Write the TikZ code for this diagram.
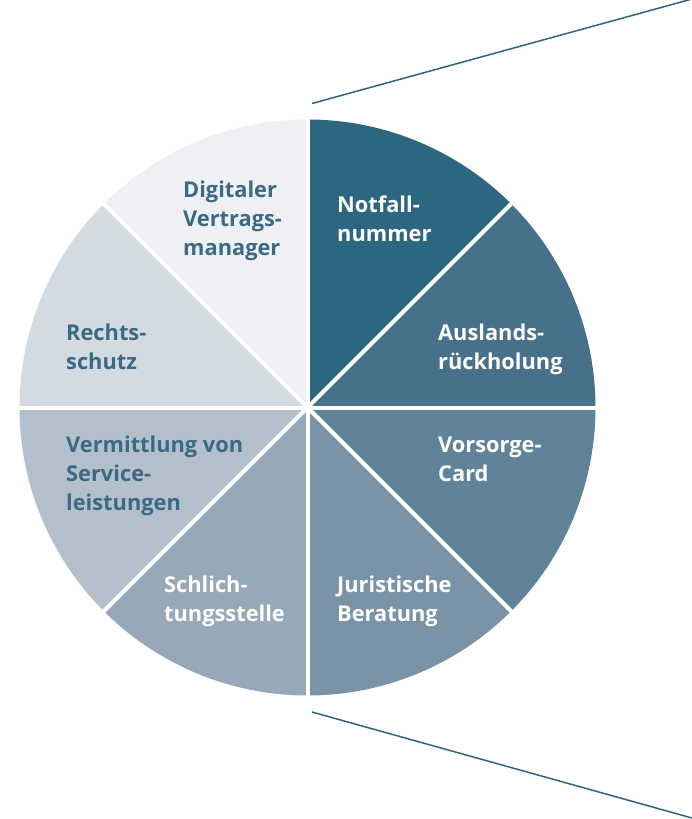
\documentclass[tikz,border=0pt]{standalone}
\usepackage{fontspec}
\setmainfont{Open Sans}
\definecolor{cA}{HTML}{2D6680}
\definecolor{cB}{HTML}{47718A}
\definecolor{cC}{HTML}{618399}
\definecolor{cD}{HTML}{7B93A7}
\definecolor{cE}{HTML}{97A8B9}
\definecolor{cF}{HTML}{B4BFCC}
\definecolor{cG}{HTML}{D4DAE2}
\definecolor{cH}{HTML}{EEF0F4}
\definecolor{txtdark}{HTML}{3B6A84}
\definecolor{linecol}{HTML}{2D6680}
\tikzset{
  lbl/.style={anchor=base west, inner sep=0pt, align=left,
    font=\fontsize{21.8}{29}\selectfont\bfseries},
  lbllight/.style={lbl, text=white},
  lbldark/.style={lbl, text=txtdark},
  gap/.style={draw=white, line width=4pt},
  zoomline/.style={draw=linecol, line width=1.5pt}
}
\begin{document}
\begin{tikzpicture}[x=1pt,y=-1pt]
\useasboundingbox (0,0) rectangle (692,819);
\fill[white] (0,0) rectangle (692,819);
\coordinate (c) at (307.5,407.5);
\def\R{288}
\fill[cA] (c) -- ++(-90:\R) arc[start angle=-90, end angle=-45, radius=\R] -- cycle;
\fill[cB] (c) -- ++(-45:\R) arc[start angle=-45, end angle=0, radius=\R] -- cycle;
\fill[cC] (c) -- ++(0:\R) arc[start angle=0, end angle=45, radius=\R] -- cycle;
\fill[cD] (c) -- ++(45:\R) arc[start angle=45, end angle=90, radius=\R] -- cycle;
\fill[cE] (c) -- ++(90:\R) arc[start angle=90, end angle=135, radius=\R] -- cycle;
\fill[cF] (c) -- ++(135:\R) arc[start angle=135, end angle=180, radius=\R] -- cycle;
\fill[cG] (c) -- ++(180:\R) arc[start angle=180, end angle=225, radius=\R] -- cycle;
\fill[cH] (c) -- ++(225:\R) arc[start angle=225, end angle=270, radius=\R] -- cycle;
\foreach \a in {0,45,...,315} {
  \draw[gap] (c) -- ++(\a:\R+2);
}
\coordinate (zt1) at (312,103.5);
\coordinate (zt2) at (692,-1);
\coordinate (zb1) at (312,712);
\coordinate (zb2) at (692,818);
\draw[zoomline] (zt1) -- (zt2);
\draw[zoomline] (zb1) -- (zb2);
% labels (anchor = baseline of last line)
\node[lbldark] (dig) at (183,255) {Digitaler\\Vertrags-\\manager};
\node[lbllight] (not) at (337,241) {Notfall-\\nummer};
\node[lbldark] (rec) at (66,369) {Rechts-\\schutz};
\node[lbllight] (aus) at (438,369) {Auslands-\\rückholung};
\node[lbldark] (ver) at (66,510) {Vermittlung von\\Service-\\leistungen};
\node[lbllight] (vor) at (438,481) {Vorsorge-\\Card};
\node[lbllight] (sch) at (164,621) {Schlich-\\tungsstelle};
\node[lbllight] (jur) at (337,621) {Juristische\\Beratung};
\end{tikzpicture}
\end{document}
